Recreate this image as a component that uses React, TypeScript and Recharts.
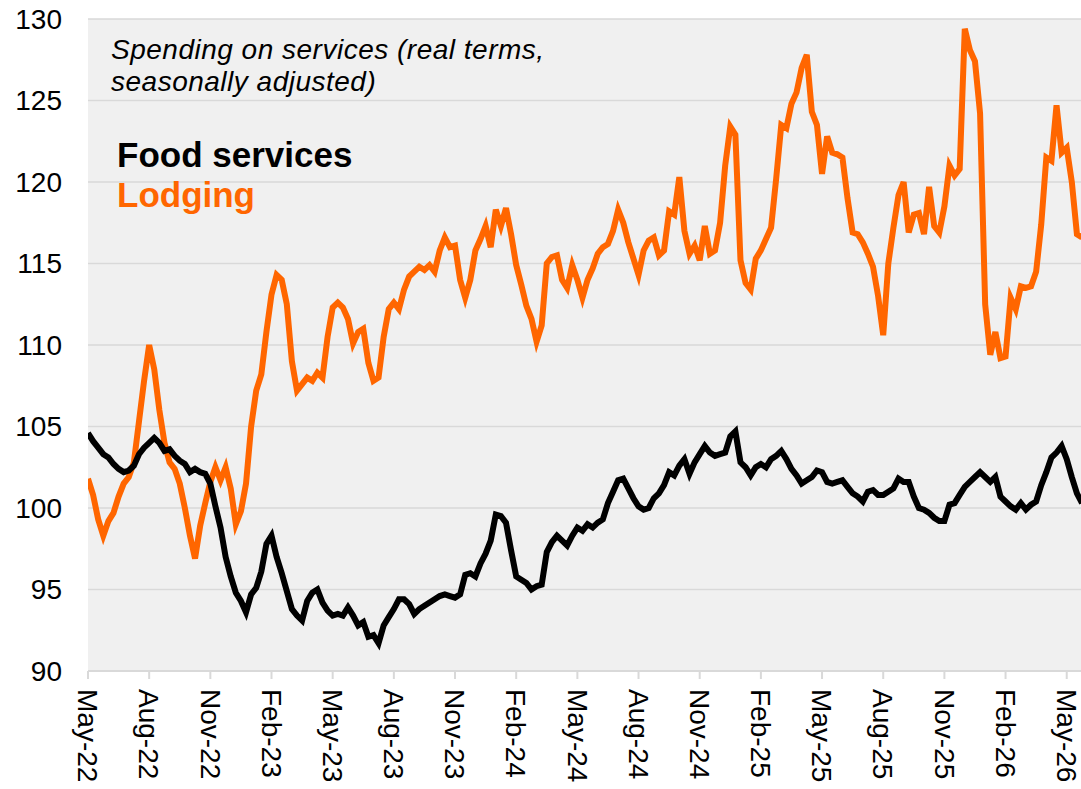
import { LineChart, Line, XAxis, YAxis, CartesianGrid } from 'recharts';

// quarterly tick labels, one every 3 months starting May-22
const TICK_LABELS = [
  'May-22', 'Aug-22', 'Nov-22', 'Feb-23', 'May-23', 'Aug-23', 'Nov-23', 'Feb-24', 'May-24',
  'Aug-24', 'Nov-24', 'Feb-25', 'May-25', 'Aug-25', 'Nov-25', 'Feb-26', 'May-26',
];

const Y_TICKS = [90, 95, 100, 105, 110, 115, 120, 125, 130];

// readings every quarter month (~weekly), index 0 = start of May-22
const STEP = 0.25;

const FOOD = [
  104.6, 104.1, 103.7, 103.3, 103.1, 102.7, 102.4, 102.2, 102.3, 102.6, 103.3, 103.7,
  104.0, 104.3, 104.0, 103.5, 103.6, 103.2, 102.9, 102.7, 102.2, 102.4, 102.2, 102.1,
  101.5, 100.1, 98.8, 97.0, 95.8, 94.8, 94.3, 93.6, 94.7, 95.1, 96.1, 97.8,
  98.3, 97.0, 96.0, 94.9, 93.8, 93.4, 93.1, 94.3, 94.8, 95.0, 94.2, 93.7,
  93.4, 93.5, 93.4, 93.9, 93.4, 92.8, 93.0, 92.1, 92.2, 91.7, 92.8, 93.3,
  93.8, 94.4, 94.4, 94.1, 93.5, 93.8, 94.0, 94.2, 94.4, 94.6, 94.7, 94.6,
  94.5, 94.7, 95.9, 96.0, 95.8, 96.6, 97.2, 98.0, 99.6, 99.5, 99.1, 97.4,
  95.8, 95.6, 95.4, 95.0, 95.2, 95.3, 97.3, 97.9, 98.3, 98.0, 97.7, 98.3,
  98.8, 98.6, 99.0, 98.8, 99.1, 99.3, 100.3, 101.0, 101.7, 101.8, 101.2, 100.6,
  100.1, 99.9, 100.0, 100.6, 100.9, 101.4, 102.2, 102.0, 102.6, 103.0, 102.1, 102.8,
  103.3, 103.8, 103.4, 103.2, 103.3, 103.4, 104.4, 104.7, 102.8, 102.5, 102.0, 102.5,
  102.7, 102.5, 103.0, 103.2, 103.5, 103.0, 102.4, 102.0, 101.5, 101.7, 101.9, 102.3,
  102.2, 101.6, 101.5, 101.6, 101.7, 101.3, 100.9, 100.7, 100.4, 101.0, 101.1, 100.8,
  100.8, 101.0, 101.2, 101.8, 101.6, 101.6, 100.7, 100.0, 99.9, 99.7, 99.4, 99.2,
  99.2, 100.2, 100.3, 100.8, 101.3, 101.6, 101.9, 102.2, 101.9, 101.6, 101.9, 100.7,
  100.4, 100.1, 99.9, 100.3, 99.9, 100.2, 100.4, 101.4, 102.2, 103.1, 103.4, 103.8,
  103.0, 101.9, 100.9, 100.3,
];

const LODGING = [
  101.8, 100.8, 99.3, 98.3, 99.2, 99.7, 100.7, 101.5, 101.9, 102.8, 105.3, 107.8,
  110.0, 108.5, 106.0, 104.0, 102.8, 102.4, 101.5, 100.0, 98.3, 96.9, 98.9, 100.3,
  101.6, 102.5, 101.7, 102.5, 101.2, 99.0, 99.8, 101.5, 105.0, 107.2, 108.2, 110.8,
  113.1, 114.3, 114.0, 112.5, 109.0, 107.2, 107.6, 108.0, 107.8, 108.3, 108.0, 110.5,
  112.3, 112.6, 112.3, 111.6, 110.1, 110.8, 111.0, 108.9, 107.8, 108.0, 110.5, 112.2,
  112.6, 112.2, 113.4, 114.2, 114.5, 114.8, 114.6, 114.9, 114.5, 115.8, 116.6, 116.0,
  116.1, 114.0, 112.9, 114.0, 115.8, 116.5, 117.3, 116.0, 118.3, 117.3, 118.4, 116.8,
  114.9, 113.7, 112.4, 111.6, 110.2, 111.2, 115.0, 115.4, 115.5, 114.0, 113.5, 114.9,
  114.0, 112.9, 114.0, 114.7, 115.6, 116.0, 116.2, 117.0, 118.3, 117.5, 116.3, 115.3,
  114.3, 115.8, 116.4, 116.6, 115.5, 115.8, 118.2, 118.0, 120.3, 117.0, 115.6, 116.1,
  115.2, 117.3, 115.6, 115.8, 117.5, 121.0, 123.4, 122.9, 115.2, 113.8, 113.4, 115.3,
  115.8, 116.5, 117.2, 120.2, 123.5, 123.3, 124.8, 125.5, 127.0, 127.8, 124.3, 123.5,
  120.5, 122.8, 121.8, 121.7, 121.5, 119.0, 116.9, 116.8, 116.3, 115.6, 114.8, 113.0,
  110.6, 115.0, 117.2, 119.2, 120.0, 116.9, 118.0, 118.1, 116.8, 119.7, 117.3, 116.9,
  118.5, 121.0, 120.4, 120.8, 129.4, 128.1, 127.4, 124.2, 112.5, 109.4, 110.8, 109.2,
  109.3, 112.9, 112.2, 113.6, 113.5, 113.6, 114.5, 117.4, 121.5, 121.3, 124.7, 121.8,
  122.1, 120.0, 116.8, 116.6,
];

const FONT = 'Arial, "Liberation Sans", sans-serif';
const ORANGE = '#ff6600';

const data = FOOD.map((v, i) => ({ t: i * STEP, food: v, lodging: LODGING[i] }));
const X_TICKS = TICK_LABELS.map((_, i) => i * 3);

function XTick({ x, y, payload }: any) {
  const label = TICK_LABELS[Math.round(payload.value / 3)];
  return (
    <g transform={`translate(${x},${y})`}>
      <text transform="rotate(90)" x={0} y={0} dy="0.35em" textAnchor="start" fontSize={28} fontFamily={FONT} fill="#000">
        {label}
      </text>
    </g>
  );
}

export default function App() {
  return (
    <div style={{ position: 'absolute', left: 0, top: 0, width: 1081, height: 789, overflow: 'hidden', background: '#fff', fontFamily: FONT }}>
      <LineChart width={1081} height={789} data={data} margin={{ top: 19, right: 0, bottom: 0, left: 0 }}>
        <CartesianGrid vertical={false} fill="#f0f0f0" stroke="#d9d9d9" strokeWidth={1.5} />
        <XAxis
          dataKey="t"
          type="number"
          domain={[0, 48.7]}
          allowDataOverflow
          ticks={X_TICKS}
          interval={0}
          height={118}
          stroke="#d9d9d9"
          strokeWidth={2}
          tickSize={8}
          tickMargin={10}
          tick={<XTick />}
        />
        <YAxis
          type="number"
          domain={[90, 130]}
          ticks={Y_TICKS}
          width={88}
          axisLine={false}
          tickLine={false}
          tickSize={0}
          tickMargin={26}
          tick={{ fontSize: 28, fill: '#000', fontFamily: FONT }}
        />
        <Line type="linear" dataKey="lodging" stroke={ORANGE} strokeWidth={6} dot={false} isAnimationActive={false} />
        <Line type="linear" dataKey="food" stroke="#000" strokeWidth={6} dot={false} isAnimationActive={false} />
      </LineChart>

      <div style={{ position: 'absolute', left: 111, top: 34, fontSize: 28, lineHeight: '32px', letterSpacing: 0.5, fontStyle: 'italic', color: '#000' }}>
        Spending on services (real terms,
        <br />
        seasonally adjusted)
      </div>
      <div style={{ position: 'absolute', left: 117, top: 135, fontSize: 35, lineHeight: '40px', fontWeight: 'bold', color: '#000' }}>
        Food services
      </div>
      <div style={{ position: 'absolute', left: 117, top: 175, fontSize: 35, lineHeight: '40px', fontWeight: 'bold', color: ORANGE }}>
        Lodging
      </div>
    </div>
  );
}
